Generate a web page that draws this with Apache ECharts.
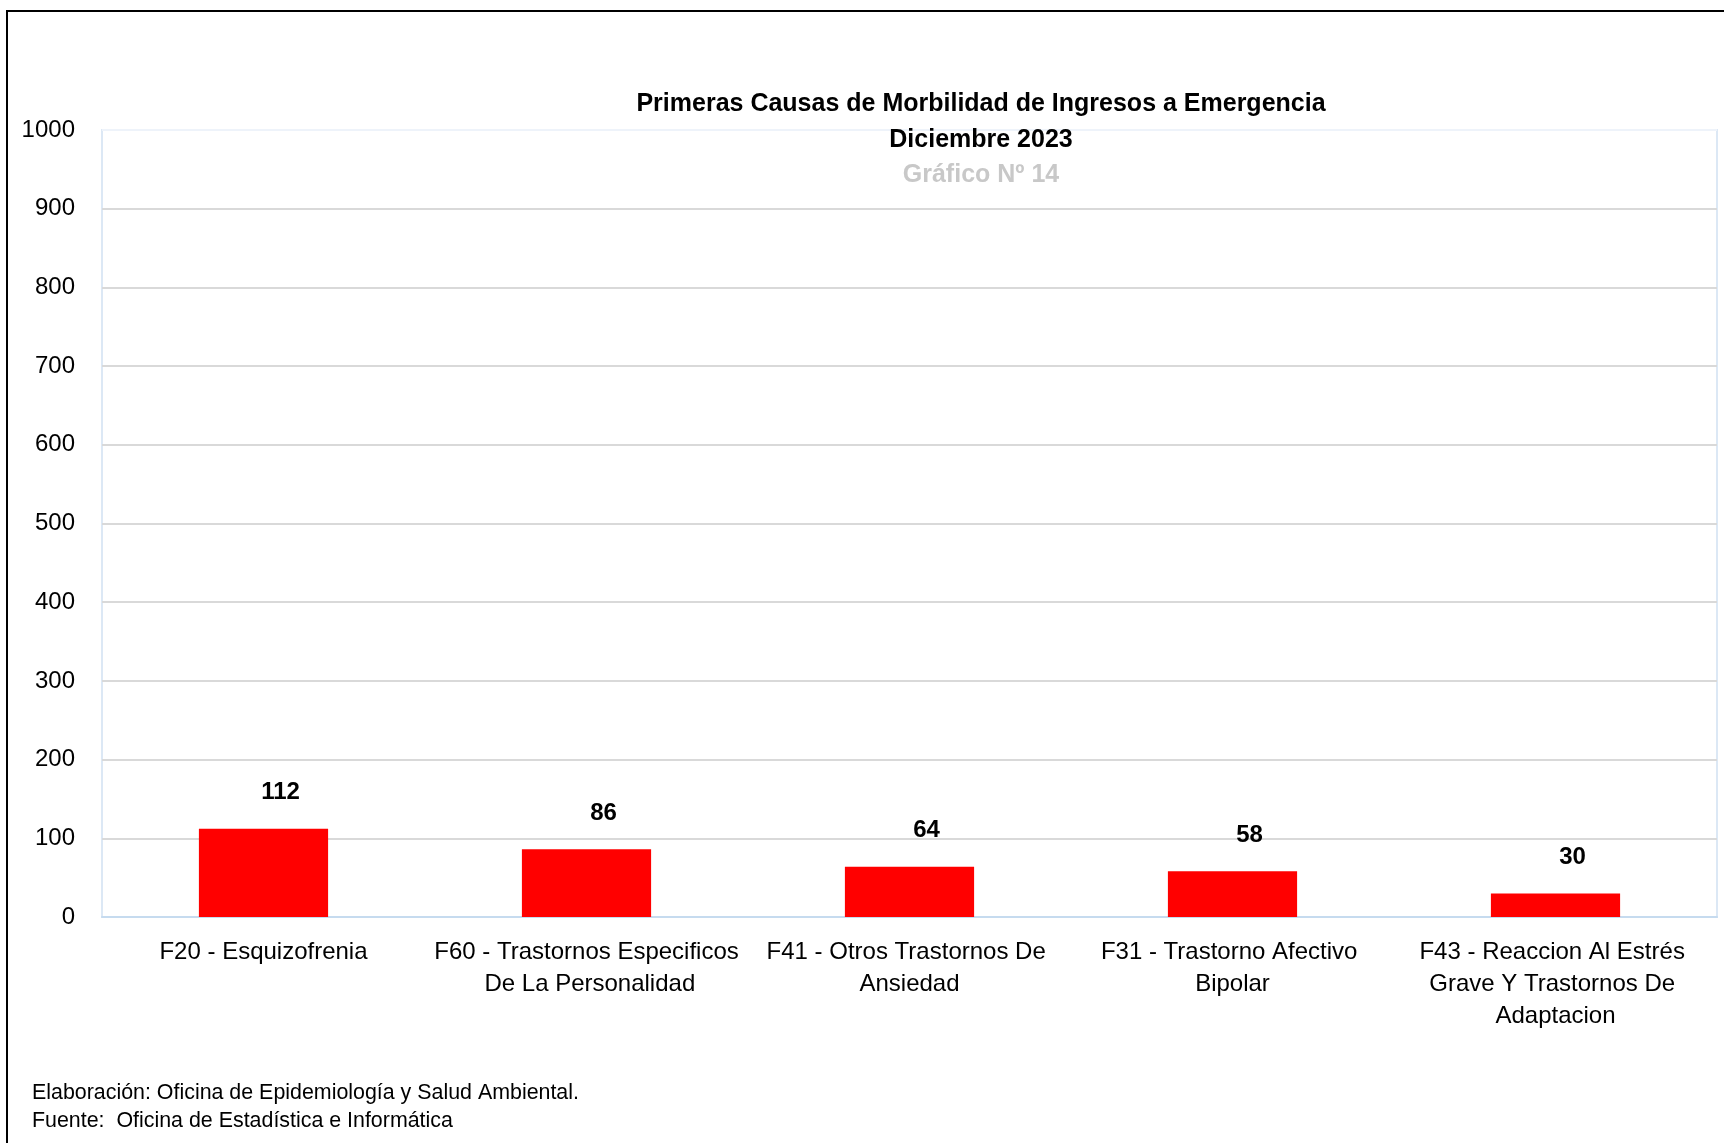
<!DOCTYPE html>
<html>
<head>
<meta charset="UTF-8">
<title>Primeras Causas de Morbilidad</title>
<script src="https://cdn.jsdelivr.net/npm/echarts@6/dist/echarts.min.js"></script>
<style>
  html, body { margin: 0; padding: 0; background: #fff; }
  #main { width: 1724px; height: 1143px; }
</style>
</head>
<body>
<div id="main"></div>
<script>
// datos del grafico
var causas = [
    'F20 - Esquizofrenia',
    'F60 - Trastornos Especificos De La Personalidad',
    'F41 - Otros Trastornos De Ansiedad',
    'F31 - Trastorno Afectivo Bipolar',
    'F43 - Reaccion Al Estrés Grave Y Trastornos De Adaptacion'
];
var ingresos = [112, 86, 64, 58, 30];
var titulo = 'Primeras Causas de Morbilidad de Ingresos a Emergencia';
var periodo = 'Diciembre 2023';
var numGrafico = 'Gráfico Nº 14';
var notas = [
    'Elaboración: Oficina de Epidemiología y Salud Ambiental.',
    'Fuente:  Oficina de Estadística e Informática'
];

var fuente = 'Liberation Sans, Arial, sans-serif';
var myChart = echarts.init(document.getElementById('main'));

// linea de 1000 mas clara que el resto
var colGrid = [];
for (var i = 0; i <= 10; i++) colGrid.push(i === 10 ? '#eef3fa' : '#d9d9d9');

var option = {
    backgroundColor: '#fff',
    animation: false,
    title: {
        text: titulo + '\n' + periodo,
        subtext: numGrafico,
        left: 981,
        top: 86,
        textAlign: 'center',
        itemGap: 0,
        padding: 0,
        textStyle: { fontFamily: fuente, fontSize: 25, fontWeight: 'bold', color: '#000', lineHeight: 36 },
        subtextStyle: { fontFamily: fuente, fontSize: 25, fontWeight: 'bold', color: '#c8c8c8', lineHeight: 35 }
    },
    grid: {
        left: 102, right: 7, top: 130, bottom: 226,
        show: true, borderColor: '#dce8f5', borderWidth: 2
    },
    xAxis: {
        type: 'category',
        data: causas,
        axisLine: { lineStyle: { color: '#c6dbef', width: 2 } },
        axisTick: { show: false },
        axisLabel: {
            interval: 0, margin: 19, width: 312, overflow: 'break',
            fontFamily: fuente, fontSize: 24, lineHeight: 32, color: '#000'
        }
    },
    yAxis: {
        type: 'value',
        min: 0, max: 1000, interval: 100,
        axisLine: { show: false },
        axisTick: { show: false },
        splitLine: { lineStyle: { color: colGrid, width: 2 } },
        axisLabel: {
            margin: 27, fontFamily: fuente, fontSize: 24, color: '#000',
            formatter: function (v) { return String(v); }
        }
    },
    series: [{
        type: 'bar',
        data: ingresos,
        barWidth: '40%',
        itemStyle: { color: '#ff0000' },
        label: {
            show: true, position: 'top', distance: 24, offset: [17, 0],
            fontFamily: fuente, fontSize: 24, fontWeight: 'bold', color: '#000'
        }
    }],
    graphic: [
        { type: 'polyline', shape: { points: [[7, 1143], [7, 11], [1724, 11]] },
          style: { stroke: '#000', lineWidth: 2, fill: null } },
        { type: 'text', left: 32, top: 1083,
          style: { text: notas[0], font: '21.4px ' + fuente, fill: '#000' } },
        { type: 'text', left: 32, top: 1111,
          style: { text: notas[1], font: '21.4px ' + fuente, fill: '#000' } }
    ]
};

myChart.setOption(option);
</script>
</body>
</html>
